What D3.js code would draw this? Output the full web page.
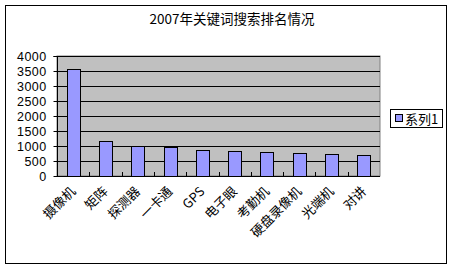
<!DOCTYPE html>
<html><head><meta charset="utf-8">
<script src="https://cdn.jsdelivr.net/npm/d3@7/dist/d3.min.js"></script>
<style>body{margin:0;background:#fff}svg{display:block}text{font-family:"SimSun","Noto Sans CJK SC",sans-serif;fill:#000}</style>
</head><body><svg id="c" width="459" height="269"></svg>
<script>
const title = "2007年关键词搜索排名情况";
const categories = ["摄像机","矩阵","探测器","一卡通","GPS","电子眼","考勤机","硬盘录像机","光端机","对讲"];
const values = [3580,1170,1000,970,870,840,800,760,730,700];
const yTicks = [0,500,1000,1500,2000,2500,3000,3500,4000];
const seriesName = "系列1";

const svg = d3.select("#c");
svg.append("rect").attr("x",5.5).attr("y",5.5).attr("width",441).attr("height",258)
  .attr("fill","#fff").attr("stroke","#000");

const L=57,T=56,R=380,B=176;
const x = d3.scaleBand().domain(categories).range([L,R]).paddingInner(0.6).paddingOuter(0.3);
const xb = d3.scaleBand().domain(categories).range([L,R]);
const y = d3.scaleLinear().domain([0,4000]).range([B,T]);

svg.append("rect").attr("x",L).attr("y",T).attr("width",R-L).attr("height",B-T)
  .attr("fill","#C0C0C0").attr("stroke","#808080");

svg.append("g").selectAll("line").data(yTicks.filter(d=>d>0)).join("line")
  .attr("x1",L).attr("x2",R).attr("y1",d=>Math.round(y(d))+0.5).attr("y2",d=>Math.round(y(d))+0.5)
  .attr("stroke","#000");

svg.append("g").selectAll("rect").data(values).join("rect")
  .attr("x",(d,i)=>Math.round(x(categories[i]))+0.5)
  .attr("y",d=>Math.round(y(d))+0.5)
  .attr("width",Math.round(x.bandwidth()))
  .attr("height",d=>Math.round(B-y(d)))
  .attr("fill","#9999FF").attr("stroke","#000");

// y axis
const ya = svg.append("g").attr("transform",`translate(${L+0.5},0)`)
  .call(d3.axisLeft(y).tickValues(yTicks).tickSize(4).tickPadding(7).tickFormat(d3.format("d")));
ya.select(".domain").attr("stroke","#000").attr("d",`M-4,${T+0.5}H0V${B}`);
ya.selectAll(".tick line").attr("stroke","#000");
ya.selectAll(".tick text").style("font-size","12.5px").style("letter-spacing","0.4px")
  .style("font-family","'Liberation Sans',sans-serif");

// x axis
const xa = svg.append("g").attr("transform",`translate(0,${B+0.5})`)
  .call(d3.axisBottom(xb).tickSize(0).tickPadding(0).tickFormat(""));
xa.select(".domain").attr("stroke","#000").attr("d",`M${L},0H${R}`);
xa.selectAll(".tick line").remove();
svg.append("g").selectAll("line").data(categories.slice(1)).join("line")
  .attr("x1",d=>Math.round(xb(d))+0.5).attr("x2",d=>Math.round(xb(d))+0.5)
  .attr("y1",B).attr("y2",B-4).attr("stroke","#000");

svg.append("g").selectAll("text").data(categories).join("text")
  .attr("transform",d=>`translate(${xb(d)+xb.bandwidth()/2},${B+13}) rotate(-45)`)
  .attr("text-anchor","end").attr("dy","0.35em").attr("font-size","13px").text(d=>d);

svg.append("text").attr("x",232).attr("y",24).attr("text-anchor","middle")
  .attr("font-size","13.5px").text(title);

// legend
const lg = svg.append("g");
lg.append("rect").attr("x",390.5).attr("y",109.5).attr("width",52).attr("height",18)
  .attr("fill","#fff").attr("stroke","#000");
lg.append("rect").attr("x",395.5).attr("y",114.5).attr("width",7).attr("height",7)
  .attr("fill","#9999FF").attr("stroke","#000");
lg.append("text").attr("x",405).attr("y",119).attr("dy","0.35em").attr("font-size","13px").text(seriesName);
</script></body></html>
